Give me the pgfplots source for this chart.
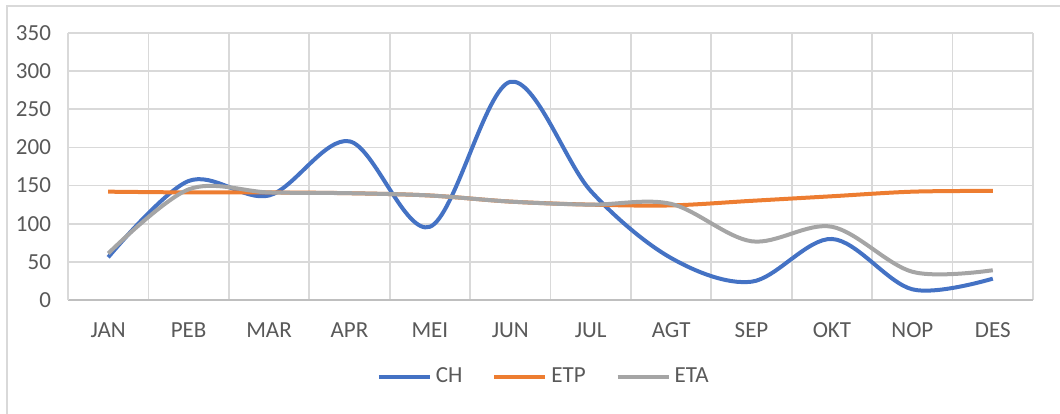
\documentclass[border=0pt]{standalone}
\usepackage{pgfplots}
\pgfplotsset{compat=1.18}
\usepackage{fontspec}
\setmainfont{Carlito}
\definecolor{chBlue}{HTML}{4472C4}
\definecolor{etpOrange}{HTML}{ED7D31}
\definecolor{etaGray}{HTML}{A5A5A5}
\definecolor{gridGray}{HTML}{D9D9D9}
\definecolor{txtGray}{HTML}{595959}

\pgfplotstableread{
x CH  ETP ETA
0 56  142 61
1 156 141 145
2 137 141 141
3 208 140 140
4 96  137 137
5 286 129 129
6 143 125 125
7 55  124 126
8 24  130 77
9 80  136 96
10 14 142 37
11 28 143 39
}\datatable

\begin{document}
\begin{tikzpicture}
	\useasboundingbox (-34pt,-56.5pt) rectangle (496pt,150pt);
	\draw[gridGray, line width=0.8pt] (-30.5pt,-70pt) rectangle (510pt,147pt);
	\begin{axis}[
		at={(0,0)}, anchor=south west,
		scale only axis,
		width=482.5pt, height=133.5pt,
		xmin=-0.5, xmax=11.5,
		ymin=0, ymax=350,
		ytick={0,50,...,350},
		xtick={0,...,11},
		xticklabels={JAN,PEB,MAR,APR,MEI,JUN,JUL,AGT,SEP,OKT,NOP,DES},
		minor xtick={-0.5,0.5,...,11.5},
		xminorgrids=true, ymajorgrids=true,
		grid style={gridGray, line width=0.9pt},
		minor grid style={gridGray, line width=0.9pt},
		major tick length=0pt, minor tick length=0pt,
		axis line style={gridGray, line width=0.9pt},
		axis x line*=bottom, axis y line*=left,
		separate axis lines,
		x axis line style={color=black!25},
		tick label style={font=\fontsize{11.5}{13}\selectfont, text=txtGray},
		yticklabel style={xshift=-5pt},
		xticklabel style={yshift=-8pt},
		/pgf/number format/assume math mode=true,
		legend style={at={(0.494,-0.288)}, anchor=center, draw=none,
			font=\fontsize{11.5}{13}\selectfont, text=txtGray,
			legend columns=3,
			/tikz/every even column/.append style={column sep=13pt}},
		legend image code/.code={\draw[#1, line width=2pt] (0pt,0pt) -- (25.5pt,0pt);},
		every axis plot/.append style={line width=2pt, smooth, tension=0.55},
		]
		\addplot[chBlue] table[x=x, y=CH] {\datatable};
		\addplot[etpOrange] table[x=x, y=ETP] {\datatable};
		\addplot[etaGray] table[x=x, y=ETA] {\datatable};
		\legend{CH, ETP, ETA}
	\end{axis}
\end{tikzpicture}
\end{document}
